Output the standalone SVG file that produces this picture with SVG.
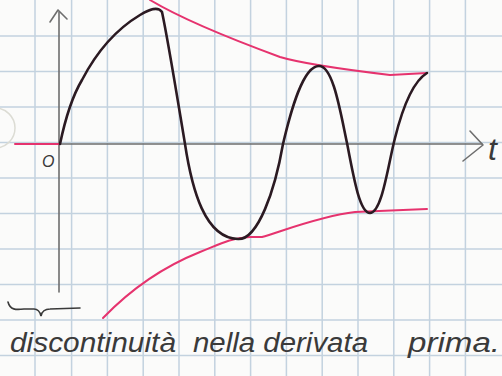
<svg xmlns="http://www.w3.org/2000/svg" width="502" height="376" viewBox="0 0 502 376">
<style>
.grid{stroke:#c3d2df;stroke-width:1.5;fill:none}
.axis{stroke:#6e6e6e;stroke-width:1.6;fill:none;stroke-linecap:round;stroke-linejoin:round}
.curve{stroke:#2b1a22;stroke-width:2.6;fill:none;stroke-linecap:round;stroke-linejoin:round}
.env{stroke:#e6336e;stroke-width:2;fill:none;stroke-linecap:round;stroke-linejoin:round}
.hand{font-family:"Liberation Sans",Arial,sans-serif;font-style:italic;fill:#3a3a3a}
</style>
<rect x="0" y="0" width="502" height="376" fill="#fbfbfa"/>
<g id="grid" class="grid">
<path d="M35,0V376M71.6,0V376M107.4,0V376M143.2,0V376M179,0V376M214.8,0V376M250.6,0V376M286.4,0V376M322.2,0V376M358,0V376M393.8,0V376M429.6,0V376M465.4,0V376"/>
<path d="M0,355.5H502M0,320H502M0,284.5H502M0,249H502M0,213.5H502M0,178H502M0,142.5H502M0,107H502M0,71.5H502M0,36H502"/>
</g>
<circle cx="-5" cy="128" r="20" fill="none" stroke="#dcdcd4" stroke-width="1.5"/>
<g id="axes" class="axis">
<path d="M59,12V292"/>
<path d="M50,22L58,10L67,19"/>
<path d="M60,144H482"/>
<path d="M470,131L483,145L463,161"/>
</g>
<g id="envelope" class="env">
<path d="M15,144H60"/>
<path d="M150,0C175,15 220,35 280,57C300,63 340,69 390,75L427,73"/>
<path d="M103,318C130,290 160,268 200,252C220,244 230,238 250,237L262,237C280,232 320,216 355,212L427,209"/>
</g>
<g id="signal" class="curve">
<path d="M60,144C64,125 70,100 82,80C95,55 115,30 140,15C150,9 158,6 162,12C168,40 176,90 185,144C192,190 205,238 238,239C258,240 275,190 283,144C291,110 303,66 319,66C333,66 340,110 347,143C354,180 360,213 370,213C382,213 388,165 395,138C402,110 412,82 427,73"/>
</g>
<g id="brace">
<path d="M8,302C10,310 16,310 24,309L34,309C38,309 40,312 41,316C42,311 45,309 50,309L80,308" fill="none" stroke="#3a3a3a" stroke-width="1.6" stroke-linecap="round"/>
</g>
<g id="labels">
<text class="hand" x="42" y="167" font-size="16">O</text>
<text class="hand" x="488" y="160" font-size="32" font-style="normal">t</text>
<text class="hand" x="10" y="352" font-size="27" textLength="166" lengthAdjust="spacingAndGlyphs">discontinuità</text>
<text class="hand" x="193" y="352" font-size="27" textLength="175" lengthAdjust="spacingAndGlyphs">nella derivata</text>
<text class="hand" x="408" y="352" font-size="27" textLength="92" lengthAdjust="spacingAndGlyphs">prima.</text>
</g>
</svg>
